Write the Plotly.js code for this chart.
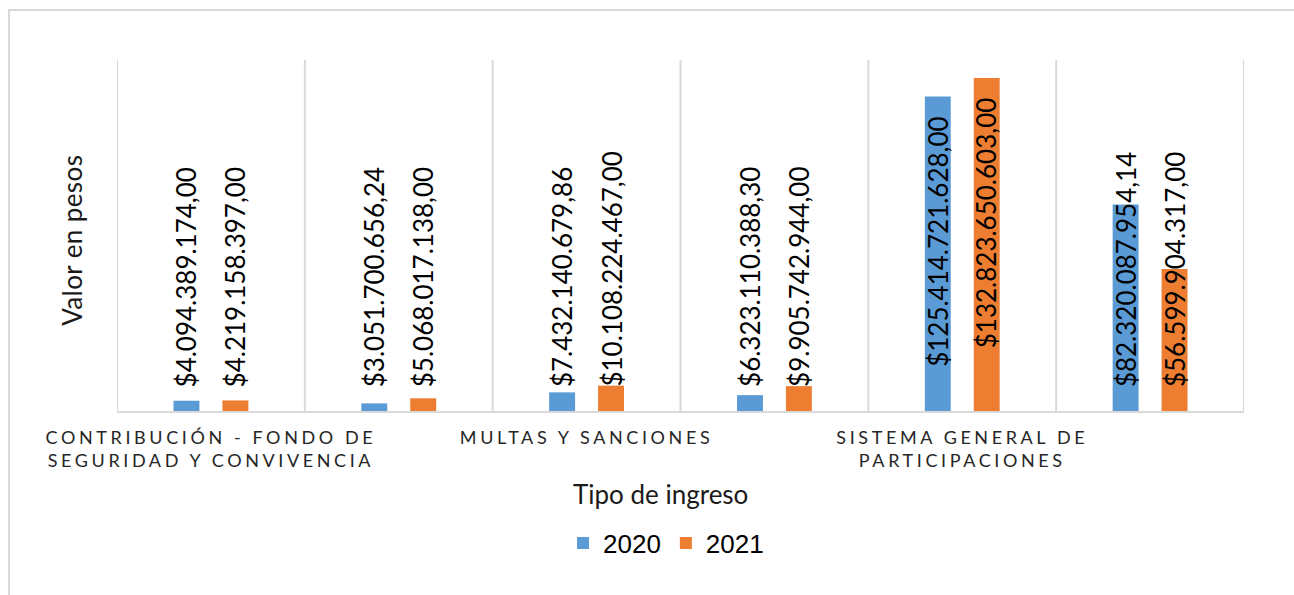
<!DOCTYPE html>
<html>
<head>
<meta charset="utf-8">
<script src="https://cdn.plot.ly/plotly-3.0.1.min.js"></script>
<style>
  html, body { margin: 0; padding: 0; background: #ffffff; }
  #chart { width: 1294px; height: 595px; }
  .xtick text { letter-spacing: 3.6px; }
  .annotation[data-index="13"] text { letter-spacing: 0.4px; }
</style>
</head>
<body>
<div id="chart"></div>
<script>
// ---- Data ----
const categories = [
  "CONTRIBUCIÓN - FONDO DE SEGURIDAD Y CONVIVENCIA",
  "Categoría 2",
  "MULTAS Y SANCIONES",
  "Categoría 4",
  "SISTEMA GENERAL DE PARTICIPACIONES",
  "Categoría 6"
];
const shownTickIndex = [0, 2, 4];
const shownTickLabels = [
  "CONTRIBUCIÓN - FONDO DE<br>SEGURIDAD Y CONVIVENCIA",
  "MULTAS Y SANCIONES",
  "SISTEMA GENERAL DE<br>PARTICIPACIONES"
];
const seriesNames = ["2020", "2021"];
const values2020 = [4094389174.00, 3051700656.24, 7432140679.86, 6323110388.30, 125414721628.00, 82320087954.14];
const values2021 = [4219158397.00, 5068017138.00, 10108224467.00, 9905742944.00, 132823650603.00, 56599904317.00];
const xTitle = "Tipo de ingreso";
const yTitle = "Valor en pesos";
const yMax = 140e9;

// ---- Styling ----
const colors = ["#5B9BD5", "#ED7D31"];
const gridColor = "#d9d9d9";
const textFont = "Lato";
const bargap = 0.479;
const bargroupgap = 0.47;
const margin = {l: 117, r: 50, t: 60, b: 184};
const W = 1294, H = 595;
const plotH = H - margin.t - margin.b;
const labelSize = 26;

function fmtPesos(v) {
  const parts = v.toFixed(2).split(".");
  const intPart = parts[0].replace(/\B(?=(\d{3})+(?!\d))/g, ".");
  return "$" + intPart + "," + parts[1];
}

const idx = categories.map((c, i) => i);
const allSeries = [values2020, values2021];

const traces = allSeries.map((vals, s) => ({
  type: "bar",
  name: seriesNames[s],
  x: idx,
  y: vals,
  marker: {color: colors[s]},
  hoverinfo: "x+y"
}));

// measure label lengths
const cv = document.createElement("canvas");
const ctx = cv.getContext("2d");
ctx.font = labelSize + "px " + textFont;

const slot = (1 - bargap) / 2;
const annotations = [];
allSeries.forEach((vals, s) => {
  const off = (s - 0.5) * slot;
  vals.forEach((v, i) => {
    const txt = fmtPesos(v);
    const len = ctx.measureText(txt).width;
    const barPx = v / yMax * plotH;
    const insideBottom = barPx - 18 - len;
    const a = {
      x: i + off, xref: "x", yref: "y",
      text: txt, showarrow: false, textangle: -90,
      font: {family: textFont, size: labelSize, color: "#000000"},
      xanchor: "center"
    };
    if (insideBottom >= 23) {
      a.y = v; a.yanchor = "top"; a.yshift = -17;
    } else {
      a.y = 0; a.yanchor = "bottom"; a.yshift = 22;
    }
    annotations.push(a);
  });
});

const plotW = W - margin.l - margin.r;
function px2paperX(px) { return (px - margin.l) / plotW; }
function px2paperY(py) { return (margin.t + plotH - py) / plotH; }

annotations.push({
  text: xTitle, showarrow: false, xref: "paper", yref: "paper",
  x: px2paperX(660), y: px2paperY(494), xanchor: "center", yanchor: "middle",
  font: {family: textFont, size: 26, color: "#1a1a1a"}
});
annotations.push({
  text: yTitle, showarrow: false, xref: "paper", yref: "paper", textangle: -90,
  x: px2paperX(72), y: px2paperY(240), xanchor: "center", yanchor: "middle",
  font: {family: textFont, size: 26, color: "#1a1a1a"}
});

const shapes = [];
for (let i = 0; i <= categories.length; i++) {
  shapes.push({
    type: "line", xref: "x", yref: "paper",
    x0: i - 0.5, x1: i - 0.5, y0: 0, y1: 1,
    line: {color: gridColor, width: 2}, layer: "below"
  });
}
// outer chart border
shapes.push({
  type: "rect", xref: "paper", yref: "paper",
  x0: px2paperX(9), x1: px2paperX(1310), y0: px2paperY(620), y1: px2paperY(10),
  line: {color: gridColor, width: 2}, fillcolor: "rgba(0,0,0,0)", layer: "below"
});

const layout = {
  width: W, height: H,
  margin: margin,
  paper_bgcolor: "#ffffff",
  plot_bgcolor: "#ffffff",
  barmode: "group",
  bargap: bargap,
  bargroupgap: bargroupgap,
  showlegend: true,
  legend: {
    orientation: "h", x: px2paperX(666), xanchor: "center",
    y: px2paperY(543), yanchor: "middle",
    font: {family: "Liberation Sans, Arial", size: 26, color: "#000000"},
    itemclick: false
  },
  xaxis: {
    range: [-0.5, categories.length - 0.5],
    tickmode: "array",
    tickvals: shownTickIndex,
    ticktext: shownTickLabels,
    tickangle: 0,
    showgrid: false,
    zeroline: false,
    showline: true,
    linecolor: gridColor,
    linewidth: 2,
    ticks: "",
    ticklabelstandoff: 9,
    tickfont: {family: textFont, size: 18, color: "#262626"},
    fixedrange: true
  },
  yaxis: {
    range: [0, yMax],
    showgrid: false,
    zeroline: false,
    showticklabels: false,
    showline: false,
    ticks: "",
    fixedrange: true
  },
  annotations: annotations,
  shapes: shapes
};

Plotly.newPlot("chart", traces, layout, {displayModeBar: false, staticPlot: true});
</script>
</body>
</html>
